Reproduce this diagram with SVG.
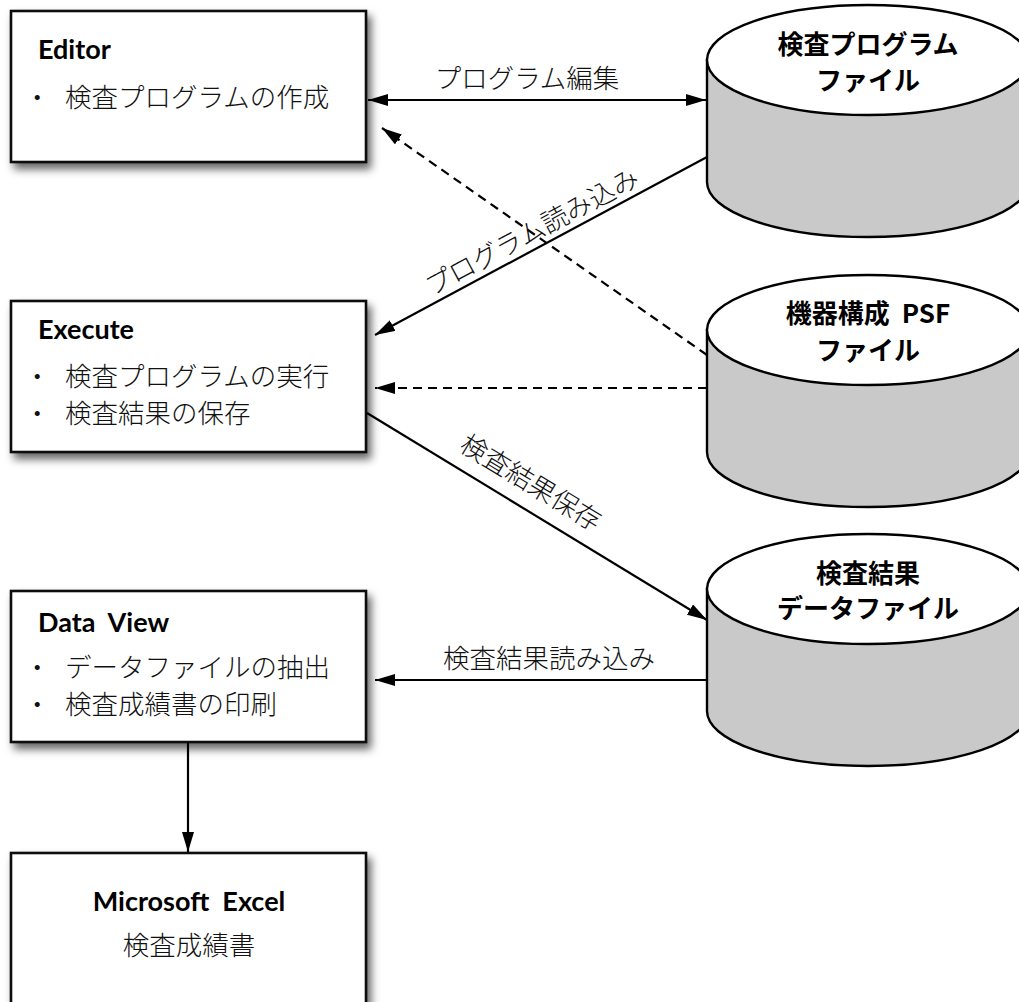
<svg xmlns="http://www.w3.org/2000/svg" width="1019" height="1002" viewBox="0 0 1019 1002">
  <style>
    .box { fill: #ffffff; stroke: #111111; stroke-width: 2.6; }
    .cyl-side { fill: #c9c9c9; stroke: #000000; stroke-width: 2.4; }
    .cyl-top { fill: #ffffff; stroke: #000000; stroke-width: 2.4; }
    .title { font-family: "Lato", "Noto Sans", sans-serif; font-weight: bold; font-size: 27px; fill: #000000; }
    .jp { font-family: "Noto Sans CJK JP", "Noto Sans", sans-serif; font-weight: 300; font-size: 26.5px; fill: #111111; }
    .jpb { font-family: "Noto Sans CJK JP", "Noto Sans", sans-serif; font-weight: bold; font-size: 26px; fill: #000000; }
    .lbl { font-family: "Noto Sans CJK JP", "Noto Sans", sans-serif; font-weight: 300; font-size: 26.5px; fill: #111111; }
    .link { stroke: #000000; stroke-width: 2.2; fill: none; }
    .dash { stroke-dasharray: 9 6; }
  </style>
  <defs>
    <filter id="shadow" x="-10%" y="-10%" width="130%" height="140%">
      <feDropShadow dx="4" dy="6" stdDeviation="4" flood-color="#000000" flood-opacity="0.6"/>
    </filter>
    <marker id="arrow" viewBox="0 0 20 12" refX="20" refY="6" markerWidth="20" markerHeight="12" markerUnits="userSpaceOnUse" orient="auto-start-reverse">
      <path d="M0,0 L20,6 L0,12 Z" fill="#000000"/>
    </marker>
  </defs>

  <!-- application boxes -->
  <g id="editor">
    <rect class="box" x="11" y="11" width="355" height="151" filter="url(#shadow)"/>
    <text class="title" x="38" y="59">Editor</text>
    <text class="jp" x="24" y="107">・</text>
    <text class="jp" x="65" y="107">検査プログラムの作成</text>
  </g>

  <g id="execute">
    <rect class="box" x="11" y="301" width="355" height="151" filter="url(#shadow)"/>
    <text class="title" x="38" y="339">Execute</text>
    <text class="jp" x="24" y="386">・</text>
    <text class="jp" x="65" y="386">検査プログラムの実行</text>
    <text class="jp" x="24" y="423">・</text>
    <text class="jp" x="65" y="423">検査結果の保存</text>
  </g>

  <g id="dataview">
    <rect class="box" x="11" y="591" width="355" height="151" filter="url(#shadow)"/>
    <text class="title" x="38" y="632" xml:space="preserve">Data  View</text>
    <text class="jp" x="24" y="677">・</text>
    <text class="jp" x="65" y="677">データファイルの抽出</text>
    <text class="jp" x="24" y="714">・</text>
    <text class="jp" x="65" y="714">検査成績書の印刷</text>
  </g>

  <g id="excel">
    <rect class="box" x="11" y="853" width="355" height="151" filter="url(#shadow)"/>
    <text class="title" x="189" y="911" text-anchor="middle" xml:space="preserve">Microsoft  Excel</text>
    <text class="jp" x="189" y="955" text-anchor="middle">検査成績書</text>
  </g>

  <!-- data stores -->
  <g id="program-file">
    <path class="cyl-side" d="M707,60 L707,182 A161,55 0 0 0 1029,182 L1029,60 Z"/>
    <ellipse class="cyl-top" cx="868" cy="60" rx="161" ry="55"/>
    <text class="jpb" x="868" y="54" text-anchor="middle">検査プログラム</text>
    <text class="jpb" x="868" y="90" text-anchor="middle">ファイル</text>
  </g>

  <g id="psf-file">
    <path class="cyl-side" d="M707,330 L707,452 A161,55 0 0 0 1029,452 L1029,330 Z"/>
    <ellipse class="cyl-top" cx="868" cy="330" rx="161" ry="55"/>
    <text class="jpb" x="868" y="323" text-anchor="middle" xml:space="preserve">機器構成  PSF</text>
    <text class="jpb" x="868" y="360" text-anchor="middle">ファイル</text>
  </g>

  <g id="result-file">
    <path class="cyl-side" d="M707,589 L707,711 A161,55 0 0 0 1029,711 L1029,589 Z"/>
    <ellipse class="cyl-top" cx="868" cy="589" rx="161" ry="55"/>
    <text class="jpb" x="868" y="583" text-anchor="middle">検査結果</text>
    <text class="jpb" x="868" y="618" text-anchor="middle">データファイル</text>
  </g>

  <!-- connectors -->
  <g id="connectors">
    <line class="link" x1="368" y1="100" x2="706" y2="100" marker-start="url(#arrow)" marker-end="url(#arrow)"/>
    <line class="link dash" x1="707" y1="355" x2="382" y2="128" marker-end="url(#arrow)"/>
    <line class="link" x1="707" y1="157" x2="375" y2="335" marker-end="url(#arrow)"/>
    <line class="link dash" x1="707" y1="388" x2="375" y2="388" marker-end="url(#arrow)"/>
    <line class="link" x1="367" y1="413" x2="707" y2="620" marker-end="url(#arrow)"/>
    <line class="link" x1="707" y1="680" x2="375" y2="680" marker-end="url(#arrow)"/>
    <line class="link" x1="188" y1="742" x2="188" y2="852" marker-end="url(#arrow)"/>

    <text class="lbl" x="527" y="88" text-anchor="middle">プログラム編集</text>
    <text class="lbl" text-anchor="middle" dominant-baseline="central" transform="translate(531,230) rotate(-28.2)">プログラム読み込み</text>
    <text class="lbl" text-anchor="middle" dominant-baseline="central" transform="translate(532,481) rotate(31.3)">検査結果保存</text>
    <text class="lbl" x="549" y="668" text-anchor="middle">検査結果読み込み</text>
  </g>
</svg>
